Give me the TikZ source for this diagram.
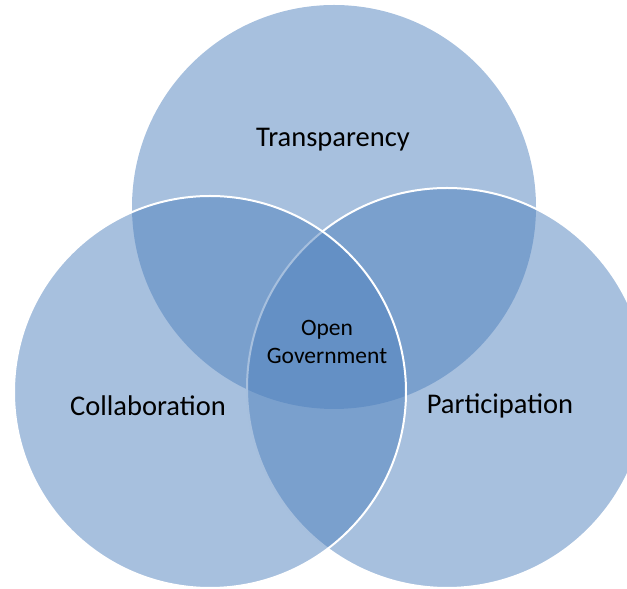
\documentclass[tikz,border=0pt]{standalone}
\usepackage{fontspec}
\setmainfont{Carlito}
\usepackage{tikz}
\definecolor{vennblue}{HTML}{4F81BD}

\begin{document}
\begin{tikzpicture}[x=1pt, y=1pt,
    set/.style={circle, fill=vennblue, fill opacity=0.5, inner sep=0pt},
    rim/.style={draw=white, line width=2pt},
    big/.style={font=\fontsize{28.5}{34}\selectfont},
    small/.style={font=\fontsize{23.5}{28}\selectfont, align=center}]

    \useasboundingbox (0, 0) rectangle (627, 589);

    % Circles
    \node at (334, 382) [set, minimum size=404pt] (transp) {};
    \node at (447, 201) [set, rim, minimum size=400pt] (partic) {};
    \node at (210, 197) [set, rim, minimum size=392pt] (collab) {};

    % Labels
    \node at (333, 449) [big] (transp_t) {Transparency};
    \node at (148, 183) [big] (collab_t) {Collaboration};
    \node at (500, 183) [big] (partic_t) {Participation};
    \node at (327, 247) [small] (open_t) {Open\\Government};

\end{tikzpicture}
\end{document}
